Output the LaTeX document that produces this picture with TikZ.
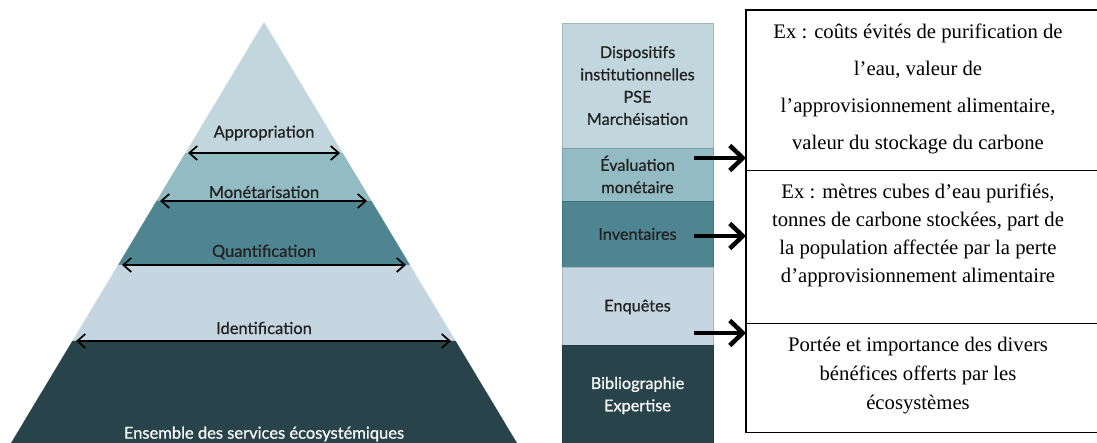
\documentclass[tikz,border=0pt]{standalone}
\usepackage{fontspec}
\setmainfont{Liberation Serif}
\newfontfamily\gill[FakeBold=0.7]{Lato}
\usetikzlibrary{arrows.meta,calc}
\definecolor{cA}{HTML}{C1D7DD}
\definecolor{cB}{HTML}{93BBC4}
\definecolor{cC}{HTML}{4F8591}
\definecolor{cD}{HTML}{C5D6E1}
\definecolor{cE}{HTML}{29434A}
\definecolor{txt}{HTML}{222222}
\tikzset{
  plab/.style={font=\gill\fontsize{16.5}{18}\selectfont, text=txt, inner sep=0pt},
  clab/.style={font=\gill\fontsize{16.3}{22.3}\selectfont, text=txt, align=center, inner sep=0pt},
  dbl/.style={line width=1.7pt, {Straight Barb[length=8pt,width=14pt]}-{Straight Barb[length=8pt,width=14pt]}},
  bigarrow/.style={line width=4.5pt, -{Straight Barb[length=13pt,width=25pt]}},
  band/.style={draw=#1!85!black, line width=0.6pt, fill=#1},
  boxline/.style={line width=1.4pt},
  etxt/.style={font=\fontsize{20.7}{#1}\selectfont, align=center, inner sep=0pt},
}
\begin{document}
\begin{tikzpicture}[x=1pt,y=-1pt]
\useasboundingbox (0,0) rectangle (1097,443);
% pyramid
\fill[cA] (264,22) -- (342.7,153) -- (185.3,153) -- cycle;
\fill[cB] (185.3,153) -- (342.7,153) -- (371.6,201) -- (156.4,201) -- cycle;
\fill[cC] (156.4,201) -- (371.6,201) -- (410,265) -- (118,265) -- cycle;
\fill[cD] (118,265) -- (410,265) -- (455.7,341) -- (72.3,341) -- cycle;
\fill[cE] (72.3,341) -- (455.7,341) -- (517,443) -- (11,443) -- cycle;
\node[plab] (appro) at (264,133) {Appropriation};
\node[plab] (mone) at (264,192) {Monétarisation};
\node[plab] (quant) at (264,252) {Quantification};
\node[plab] (ident) at (264,328) {Identification};
\node[plab, text=white!92!cA] (ens) at (264,434) {Ensemble des services écosystémiques};
\coordinate (a1l) at (188,153); \coordinate (a1r) at (340,153);
\coordinate (a2l) at (160,201); \coordinate (a2r) at (367,201);
\coordinate (a3l) at (122,265); \coordinate (a3r) at (406,265);
\coordinate (a4l) at (76,341);  \coordinate (a4r) at (451,341);
\draw[dbl] (a1l) -- (a1r);
\draw[dbl] (a2l) -- (a2r);
\draw[dbl] (a3l) -- (a3r);
\draw[dbl] (a4l) -- (a4r);
% column
\fill[band=cA] (562,23) rectangle (713,148);
\fill[band=cB] (562,148) rectangle (713,201);
\fill[band=cC] (562,201) rectangle (713,267);
\fill[band=cD] (562,267) rectangle (713,345);
\fill[band=cE] (562,345) rectangle (713,443);
\node[clab] (disp) at (637.5,85.5) {Dispositifs\\institutionnelles\\PSE\\Marchéisation};
\node[clab] (eval) at (637.5,174.5) {Évaluation\\monétaire};
\node[clab] (inv) at (637.5,234) {Inventaires};
\node[clab] (enq) at (637.5,307) {Enquêtes};
\node[clab, text=white!90!cA] (bib) at (637.5,395.5) {Bibliographie\\Expertise};
% boxes
\node[minimum width=351pt, minimum height=160pt, inner sep=0pt, anchor=north west] (box1) at (746,10) {};
\node[minimum width=351pt, minimum height=153pt, inner sep=0pt, anchor=north west] (box2) at (746,170) {};
\node[minimum width=351pt, minimum height=109pt, inner sep=0pt, anchor=north west] (box3) at (746,323) {};
\draw[boxline] (box1.north east) -- (box1.north west) -- (box3.south west) -- (box3.south east);
\draw[boxline] (box1.south west) -- (box1.south east);
\draw[boxline] (box2.south west) -- (box2.south east);
\node[etxt=37] (t1) at (918,88.5) {Ex : coûts évités de purification de\\l’eau, valeur de\\l’approvisionnement alimentaire,\\valeur du stockage du carbone};
\node[etxt=28] (t2) at (918,235.5) {Ex : mètres cubes d’eau purifiés,\\tonnes de carbone stockées, part de\\la population affectée par la perte\\d’approvisionnement alimentaire};
\node[etxt=29] (t3) at (918,376) {Portée et importance des divers\\bénéfices offerts par les\\écosystèmes};
% arrows
\coordinate (s1) at (694,158);
\coordinate (s2) at (694,236);
\coordinate (s3) at (694,333);
\draw[bigarrow] (s1) -- (s1 -| box1.west);
\draw[bigarrow] (s2) -- (s2 -| box2.west);
\draw[bigarrow] (s3) -- (s3 -| box3.west);
\end{tikzpicture}
\end{document}
